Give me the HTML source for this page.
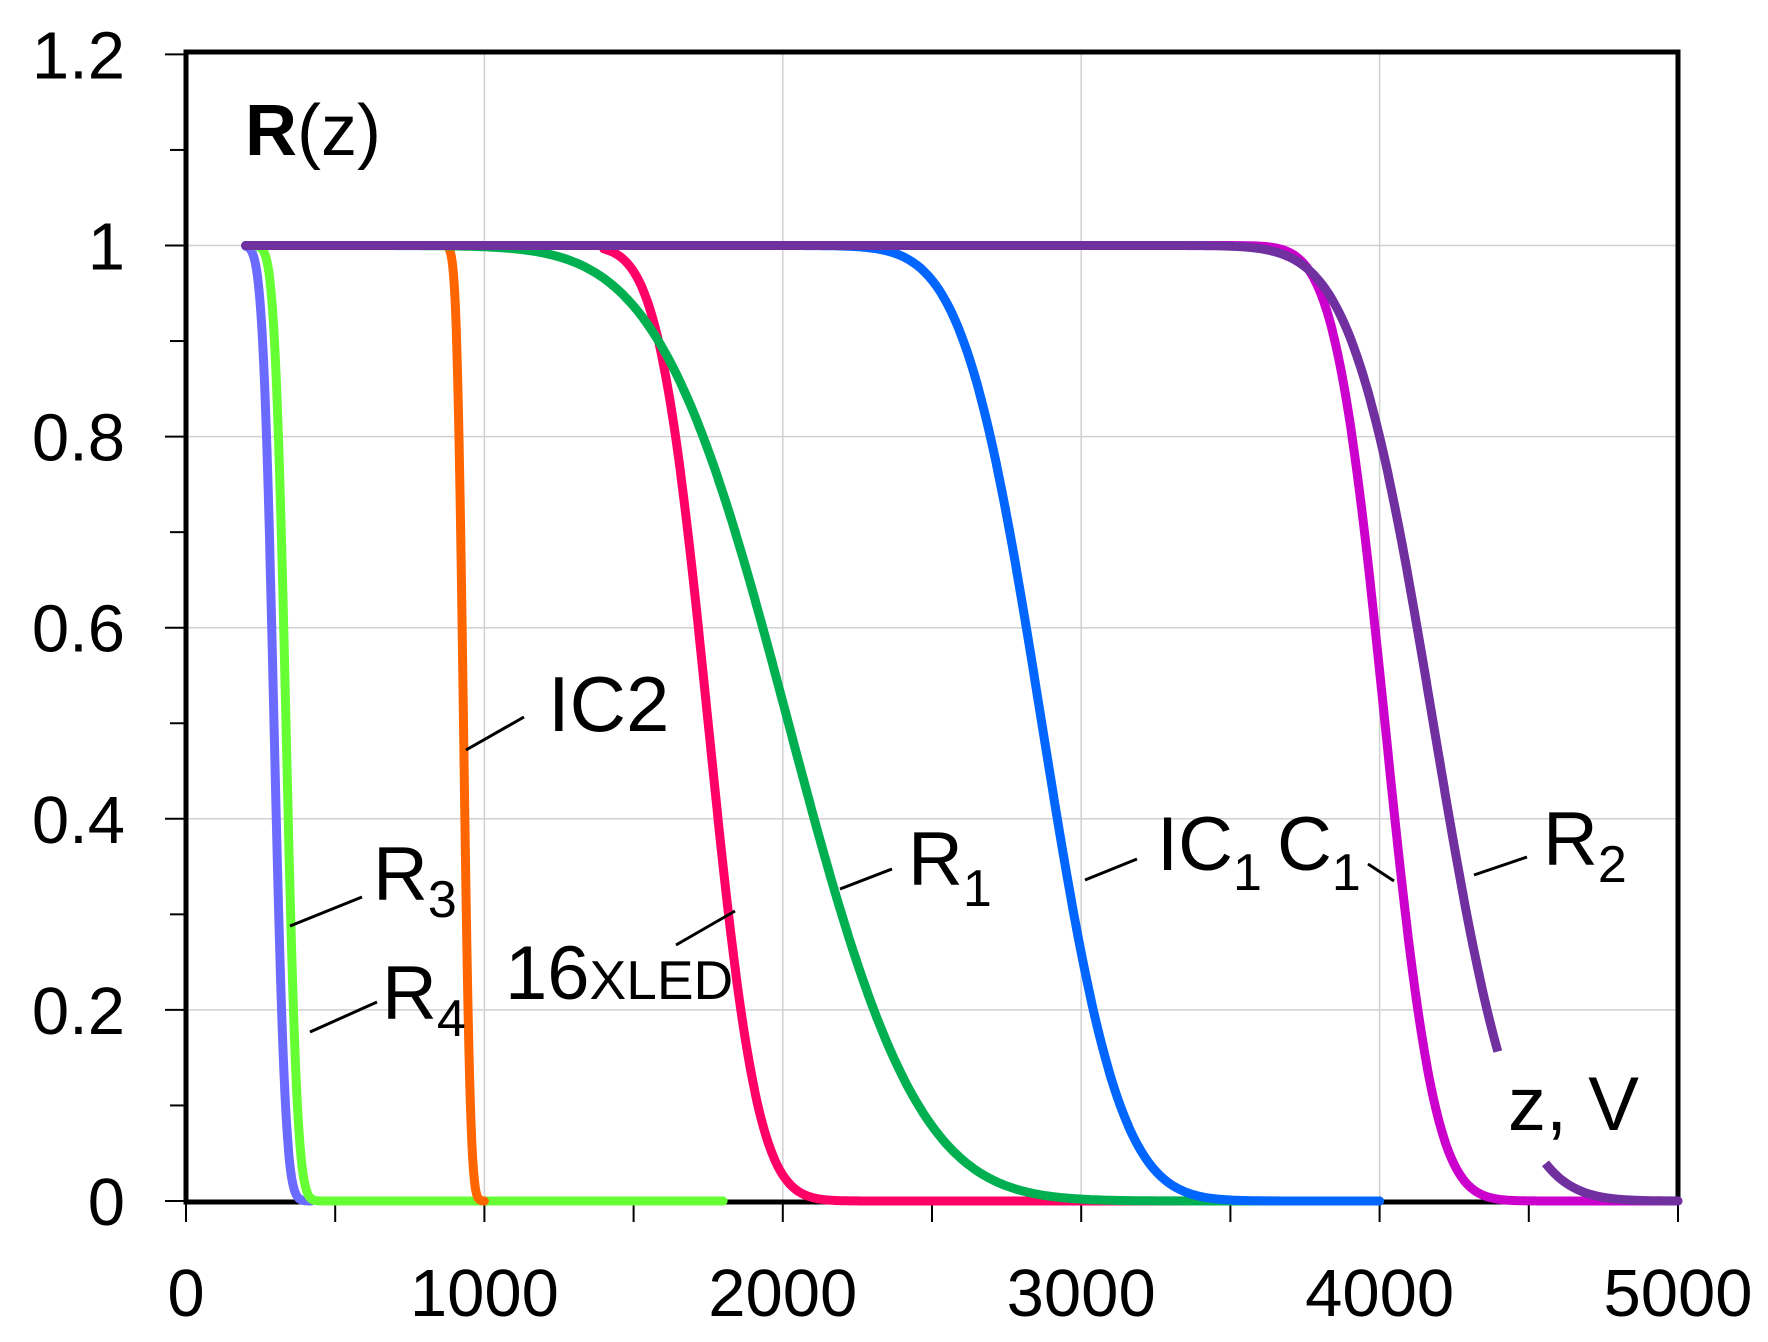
<!DOCTYPE html>
<html><head><meta charset="utf-8"><style>
html,body{margin:0;padding:0;background:#fff;}
svg{display:block;font-family:"Liberation Sans",Arial,sans-serif;}
</style></head><body>
<svg id="s" width="1768" height="1342" viewBox="0 0 1768 1342" xmlns="http://www.w3.org/2000/svg">
<rect width="1768" height="1342" fill="#fff"/>
<g id="grid" stroke="#d0d0d0" stroke-width="1.5"></g>
<g id="ticks" stroke="#000" stroke-width="2"></g>
<rect x="186" y="52" width="1492" height="1150" fill="none" stroke="#000" stroke-width="5"/>
<g id="curves" fill="none" stroke-width="9" stroke-linejoin="round" stroke-linecap="round"></g>
<rect x="1510" y="1062" width="140" height="80" fill="#fff"/>
<g id="labels" fill="#000" font-size="67" text-anchor="end"></g>
<g id="xlabels" fill="#000" font-size="67" text-anchor="middle"></g>
<g stroke="#000" stroke-width="3">
<line x1="466" y1="750" x2="524" y2="717"/>
<line x1="290" y1="926" x2="362" y2="897"/>
<line x1="310" y1="1032" x2="377" y2="1002"/>
<line x1="676" y1="945" x2="735" y2="911"/>
<line x1="840" y1="889" x2="892" y2="869"/>
<line x1="1085" y1="880" x2="1137" y2="859"/>
<line x1="1368" y1="864" x2="1394" y2="881"/>
<line x1="1474" y1="875" x2="1527" y2="857"/>
</g>
<g fill="#000">
<text x="245" y="155" font-size="72"><tspan font-weight="bold">R</tspan>(z)</text>
<text x="548" y="731" font-size="78">IC2</text>
<text x="373" y="900" font-size="76">R<tspan font-size="52" dy="17">3</tspan></text>
<text x="382" y="1019" font-size="76">R<tspan font-size="52" dy="17">4</tspan></text>
<text x="505" y="999" font-size="76">16<tspan font-size="55">XLED</tspan></text>
<text x="908" y="885" font-size="76">R<tspan font-size="52" dy="21">1</tspan></text>
<text x="1157" y="870" font-size="76">IC<tspan font-size="52" dy="20">1</tspan></text>
<text x="1277" y="870" font-size="76">C<tspan font-size="52" dy="20">1</tspan></text>
<text x="1543" y="865" font-size="76">R<tspan font-size="52" dy="17">2</tspan></text>
<text x="1508" y="1130" font-size="76">z, V</text>
</g>
</svg>
<script>
var NS="http://www.w3.org/2000/svg";
function X(z){return 186+z*0.2984;}
function Y(v){return 1201-v*955.5;}
function el(p,t,a,txt){var e=document.createElementNS(NS,t);for(var k in a)e.setAttribute(k,a[k]);if(txt!==undefined)e.textContent=txt;document.getElementById(p).appendChild(e);return e;}
for(var i=1;i<6;i++){el("grid","line",{x1:186,x2:1678,y1:Y(i*0.2),y2:Y(i*0.2)});}
for(var i=1;i<5;i++){el("grid","line",{x1:X(i*1000),x2:X(i*1000),y1:52,y2:1201});}
for(var i=0;i<=12;i++){var y=Y(i*0.1);el("ticks","line",{x1:i%2?170:165,x2:186,y1:y,y2:y});}
for(var i=0;i<=10;i++){var x=X(i*500);el("ticks","line",{x1:x,x2:x,y1:1201,y2:1222});}
var yl=["0","0.2","0.4","0.6","0.8","1","1.2"];
for(var i=0;i<7;i++)el("labels","text",{x:125,y:Y(i*0.2)+24},yl[i]);
for(var i=0;i<6;i++)el("xlabels","text",{x:X(i*1000),y:1316},String(i*1000));
function erf(x){var s=x<0?-1:1;x=Math.abs(x);var t=1/(1+0.3275911*x);var y=1-(((((1.061405429*t-1.453152027)*t)+1.421413741)*t-0.284496736)*t+0.254829592)*t*Math.exp(-x*x);return s*y;}
function Q(z,m,s){return 0.5*(1-erf((z-m)/(s*Math.SQRT2)));}
function pts(arr){return arr.map(function(p){return X(p[0]).toFixed(1)+","+Y(p[1]).toFixed(1);}).join(" ");}
function gen(z0,z1,m,s,step){var a=[];for(var z=z0;z<=z1+0.01;z+=step){a.push([z,Q(z,m,s)]);}return a;}
function add(arr,col,cap){var e=el("curves","polyline",{points:pts(arr),stroke:col});if(cap)e.setAttribute("stroke-linecap",cap);}
add(gen(200,420,295,30,2),"#6b6bff");
add(gen(200,1800,335,30,2),"#66ff33");
add(gen(850,1000,930,18,1),"#ff6600");
add(gen(1400,4000,1750,130,4),"#ff0066");
add(gen(200,4000,2019,340,5),"#00b050");
add(gen(200,4000,2868,205,5),"#0066ff");
add(gen(200,5000,4018,131,4),"#cc00cc");
var p=gen(200,5000,4180,214,4);
var a1=p.filter(function(q){return q[1]>=0.152;}),a2=p.filter(function(q){return q[1]<=0.04;});
add(a1,"#7030a0","butt");add(a2,"#7030a0","butt");
el("curves","circle",{cx:X(200),cy:Y(1),r:4.5,fill:"#7030a0",stroke:"none"});
el("curves","circle",{cx:X(5000),cy:Y(Q(5000,4180,214)),r:4.5,fill:"#7030a0",stroke:"none"});
</script>
</body></html>
